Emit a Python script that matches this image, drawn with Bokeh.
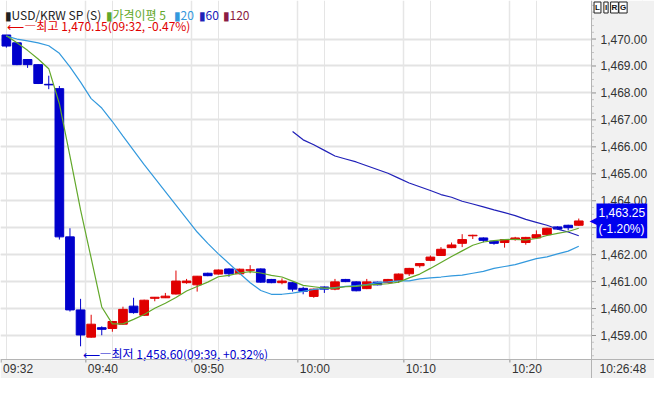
import numpy as np
import pandas as pd
from bokeh.plotting import figure
from bokeh.models import (ColumnDataSource, FixedTicker, Label, Range1d, Grid, BoxAnnotation, Span)
from bokeh.core.properties import value
from bokeh.embed import file_html
from bokeh.resources import INLINE

# ---------------- data ----------------
times = ["09:32", "09:33", "09:34", "09:35", "09:36", "09:37", "09:38", "09:39", "09:40", "09:41",
         "09:42", "09:43", "09:44", "09:45", "09:46", "09:47", "09:48", "09:49", "09:50", "09:51",
         "09:52", "09:53", "09:54", "09:55", "09:56", "09:57", "09:58", "09:59", "10:00", "10:01",
         "10:02", "10:03", "10:04", "10:05", "10:06", "10:07", "10:08", "10:09", "10:10", "10:11",
         "10:12", "10:13", "10:14", "10:15", "10:16", "10:17", "10:18", "10:19", "10:20", "10:21",
         "10:22", "10:23", "10:24", "10:25", "10:26"]

open_ = [1470.15, 1469.86, 1469.24, 1469.05, 1468.32, 1468.16, 1462.66, 1459.95, 1458.94, 1459.29,
         1459.26, 1459.42, 1460.09, 1459.75, 1460.38, 1460.40, 1460.54, 1460.96, 1460.88, 1461.31,
         1461.28, 1461.47, 1461.29, 1461.42, 1461.47, 1461.08, 1460.96, 1460.96, 1460.75, 1460.45,
         1460.80, 1460.72, 1461.08, 1460.99, 1460.74, 1460.98, 1460.96, 1461.04, 1461.29, 1461.59,
         1461.79, 1461.97, 1462.26, 1462.42, 1462.70, 1462.62, 1462.50, 1462.45, 1462.56, 1462.45,
         1462.62, 1462.74, 1463.03, 1463.09, 1463.09]
high = [1470.15, 1469.88, 1469.26, 1469.06, 1468.64, 1468.26, 1462.98, 1460.36, 1459.77, 1459.34,
        1459.53, 1460.07, 1460.40, 1460.33, 1460.43, 1460.58, 1461.41, 1461.10, 1461.21, 1461.33,
        1461.45, 1461.49, 1461.48, 1461.61, 1461.49, 1461.10, 1461.12, 1460.98, 1460.81, 1460.74,
        1460.82, 1461.10, 1461.10, 1461.01, 1461.10, 1461.00, 1461.10, 1461.30, 1461.51, 1461.69,
        1461.97, 1462.28, 1462.45, 1462.76, 1462.74, 1462.64, 1462.52, 1462.58, 1462.66, 1462.66,
        1462.90, 1463.00, 1463.05, 1463.11, 1463.34]
low = [1469.68, 1469.03, 1468.93, 1468.33, 1468.14, 1462.56, 1459.89, 1458.60, 1458.92, 1459.01,
       1459.14, 1459.40, 1459.81, 1459.73, 1460.27, 1460.39, 1460.52, 1460.92, 1460.63, 1461.20,
       1461.26, 1461.18, 1461.27, 1461.31, 1460.96, 1460.94, 1460.90, 1460.63, 1460.53, 1460.40,
       1460.58, 1460.68, 1460.98, 1460.64, 1460.72, 1460.86, 1460.94, 1460.95, 1461.21, 1461.52,
       1461.76, 1461.95, 1462.24, 1462.28, 1462.58, 1462.46, 1462.37, 1462.26, 1462.52, 1462.37,
       1462.60, 1462.70, 1462.93, 1462.90, 1463.07]
close = [1469.74, 1469.05, 1469.05, 1468.35, 1468.30, 1462.66, 1459.95, 1459.02, 1459.42, 1459.23,
         1459.52, 1459.97, 1459.85, 1460.31, 1460.42, 1460.46, 1461.02, 1461.02, 1461.20, 1461.22,
         1461.43, 1461.29, 1461.46, 1461.44, 1460.98, 1460.96, 1461.02, 1460.72, 1460.64, 1460.72,
         1460.72, 1460.99, 1461.00, 1460.66, 1460.99, 1460.88, 1461.08, 1461.28, 1461.49, 1461.67,
         1461.91, 1462.20, 1462.36, 1462.56, 1462.72, 1462.53, 1462.42, 1462.56, 1462.62, 1462.64,
         1462.74, 1462.98, 1462.95, 1463.00, 1463.25]

ma5 = [1470.12, 1469.86, 1469.58, 1469.26, 1468.90, 1467.60, 1465.66, 1463.66, 1461.87, 1460.06,
       1459.43, 1459.43, 1459.60, 1459.78, 1460.01, 1460.20, 1460.41, 1460.65, 1460.82, 1460.98,
       1461.18, 1461.23, 1461.32, 1461.37, 1461.32, 1461.23, 1461.17, 1461.02, 1460.86, 1460.81,
       1460.76, 1460.76, 1460.81, 1460.82, 1460.87, 1460.90, 1460.92, 1460.98, 1461.14, 1461.28,
       1461.49, 1461.71, 1461.93, 1462.14, 1462.35, 1462.47, 1462.52, 1462.56, 1462.57, 1462.55,
       1462.60, 1462.71, 1462.79, 1462.86, 1462.98]
ma20 = [1470.11, 1470.00, 1469.93, 1469.86, 1469.75, 1469.47, 1468.97, 1468.40, 1467.79, 1467.44,
        1466.94, 1466.40, 1465.87, 1465.34, 1464.84, 1464.34, 1463.84, 1463.34, 1462.84, 1462.42,
        1462.03, 1461.67, 1461.31, 1460.96, 1460.67, 1460.53, 1460.53, 1460.57, 1460.64, 1460.71,
        1460.74, 1460.78, 1460.82, 1460.85, 1460.89, 1460.96, 1460.99, 1461.03, 1461.03, 1461.10,
        1461.14, 1461.17, 1461.21, 1461.24, 1461.31, 1461.38, 1461.49, 1461.56, 1461.63, 1461.74,
        1461.85, 1461.92, 1462.03, 1462.13, 1462.31]
ma60_start = "09:59"
ma60 = [1466.57, 1466.26, 1466.08, 1465.87, 1465.66, 1465.55, 1465.44, 1465.30, 1465.16, 1465.02,
        1464.84, 1464.66, 1464.52, 1464.38, 1464.23, 1464.13, 1463.98, 1463.88, 1463.77, 1463.66,
        1463.56, 1463.45, 1463.31, 1463.20, 1463.09, 1462.95, 1462.84, 1462.70]

xtick_labels = ["09:32", "09:40", "09:50", "10:00", "10:10", "10:20"]
yticks = [1459, 1460, 1461, 1462, 1463, 1464, 1465, 1466, 1467, 1468, 1469, 1470]
high_pct = "-0.47%"
low_pct = "+0.32%"
last_pct = "-1.20%"
last_time = "10:26:48"

# ---------------- layout / styles ----------------
RED = "#e00000"
BLUE = "#0000cc"
C_MA5 = "#62a82a"
C_MA20 = "#3399dd"
C_MA60 = "#2020b8"
C_MA120 = "#8b1c44"
KFONT = "Noto Sans CJK KR"
AFONT = "Liberation Sans"
PANEL_BG = "#f1f1f1"
AXIS_LINE = "#b4b4b4"

W, H = 654, 378            # canvas == frame
PW, PH = 591, 359          # plotting area inside frame
XA, XB = -0.553, 55.2      # x extent of plotting area
Y0, Y1 = 1458.11, 1471.43  # y extent of plotting area
ppx = PW / (XB - XA)
ppy = PH / (Y1 - Y0)
X_END = XB + (W - PW) / ppx
Y_BOT = Y0 - (H - PH) / ppy
Y_BAND = (Y0 + Y_BOT) / 2

df = pd.DataFrame(dict(t=times, o=open_, h=high, l=low, c=close))
df["x"] = np.arange(len(df))
df["top"] = df[["o", "c"]].max(axis=1)
df["bot"] = df[["o", "c"]].min(axis=1)
df["col"] = np.where(df["c"] >= df["o"], RED, BLUE)
src = ColumnDataSource(df)

p = figure(width=W, height=H, output_backend="svg", toolbar_location=None,
           x_range=Range1d(XA, X_END), y_range=Range1d(Y_BOT, Y1),
           x_axis_location=None, y_axis_location=None,
           min_border_left=0, min_border_top=0, min_border_right=0, min_border_bottom=0)
p.background_fill_color = "white"
p.border_fill_color = "white"
p.outline_line_color = None

# grids
xg_pos = [times.index(t) - 0.5 for t in xtick_labels]
p.add_layout(Grid(dimension=1, ticker=FixedTicker(ticks=yticks),
                  grid_line_color="#e3e3e3", grid_line_width=2))
p.add_layout(Grid(dimension=0, ticker=FixedTicker(ticks=xg_pos[1:]),
                  grid_line_color="#e6e6e6", grid_line_width=1.5))

# axis panels (right price panel, bottom time band)
p.add_layout(BoxAnnotation(left=XB, fill_color=PANEL_BG, fill_alpha=1, line_color=None,
                           level="underlay"))
p.add_layout(BoxAnnotation(top=Y0, fill_color=PANEL_BG, fill_alpha=1, line_color=None,
                           level="underlay"))
p.add_layout(Span(location=XB, dimension="height", line_color=AXIS_LINE, line_width=1))
p.add_layout(Span(location=Y0, dimension="width", line_color=AXIS_LINE, line_width=1))

# right axis ticks + labels
minor = [v for v in np.arange(np.ceil(Y0 * 4) / 4, Y1, 0.25) if v not in yticks]
p.segment(x0=[XB] * len(minor), x1=[XB + 2.5 / ppx] * len(minor), y0=minor, y1=minor,
          line_color="#c4c4c4", line_width=1)
p.segment(x0=[XB] * len(yticks), x1=[XB + 4.5 / ppx] * len(yticks), y0=yticks, y1=yticks,
          line_color="#909090", line_width=1)
p.text(x=[XB] * len(yticks), y=yticks, text=[f"{v:,.2f}" for v in yticks],
       x_offset=9, text_align="left", text_baseline="middle",
       text_font=value(AFONT), text_font_size="12px", text_color="#333333")

# bottom axis ticks + labels
p.segment(x0=xg_pos, x1=xg_pos, y0=[Y0] * len(xg_pos), y1=[Y0 - 3 / ppy] * len(xg_pos),
          line_color="#909090", line_width=1)
p.text(x=xg_pos, y=[Y_BAND] * len(xg_pos), text=xtick_labels, x_offset=2,
       text_align="left", text_baseline="middle",
       text_font=value(AFONT), text_font_size="12px", text_color="#333333")
p.text(x=[XB], y=[Y_BAND], text=[last_time], x_offset=8,
       text_align="left", text_baseline="middle",
       text_font=value(AFONT), text_font_size="12px", text_color="#333333")

# candles
p.segment(x0="x", y0="l", x1="x", y1="h", color="col", line_width=1, source=src)
p.vbar(x="x", top="top", bottom="bot", width=0.82, fill_color="col", line_color="col",
       line_width=1, source=src)

# moving averages
xi = np.arange(len(times))
p.line(xi, ma20, line_color=C_MA20, line_width=1.2)
i60 = times.index(ma60_start)
p.line(xi[i60:i60 + len(ma60)], ma60, line_color=C_MA60, line_width=1.2)
p.line(xi, ma5, line_color=C_MA5, line_width=1.2)

# high / low annotations
ih = int(np.argmax(high))
il = int(np.argmin(low))
p.text(x=[ih], y=[high[ih]], text=[f"⟵―최고 {high[ih]:,.2f}({times[ih]}, {high_pct})"],
       text_color=RED, text_font=value(KFONT), text_font_size="12px",
       text_align="left", text_baseline="bottom", x_offset=1, y_offset=-1)
p.text(x=[il], y=[low[il]], text=[f"⟵―최저 {low[il]:,.2f}({times[il]}, {low_pct})"],
       text_color=BLUE, text_font=value(KFONT), text_font_size="12px",
       text_align="left", text_baseline="top", x_offset=2, y_offset=-1)

# legend row at top
legend_items = [("▮USD/KRW SP (S)", "#222222", 4), ("▮가격이평 5", C_MA5, 105),
                ("▮20", C_MA20, 173), ("▮60", C_MA60, 198), ("▮120", C_MA120, 222)]
for txt, col, xs in legend_items:
    p.add_layout(Label(x=xs, y=Y1, x_units="screen", y_units="data", y_offset=-14,
                       text=txt, text_color=col, text_font=KFONT, text_font_size="12px",
                       text_align="left", text_baseline="middle"))

# last price tag
last = close[-1]
p.add_layout(Label(x=PW - 2, y=last, x_units="screen", y_units="data",
                   text="◀", text_color="#0000ee", text_font="DejaVu Sans",
                   text_font_size="10px", text_align="left", text_baseline="middle"))
p.add_layout(Label(x=PW + 5, y=last, x_units="screen", y_units="data",
                   text=f"{last:,.2f}\n({last_pct})", text_color="white", text_font=AFONT,
                   text_font_size="12px", text_align="left", text_baseline="middle",
                   background_fill_color="#0000ee", padding=2))

# L I R G boxes
for k, ch in enumerate(["L", "I", "R", "G"]):
    p.add_layout(Label(x=PW + 6 + k * 8.5, y=Y1, x_units="screen", y_units="data", y_offset=-7,
                       text=ch, text_color="#111111", text_font=AFONT, text_font_size="8px",
                       text_font_style="bold", text_align="center", text_baseline="middle",
                       border_line_color="#222222", background_fill_color="#ffffff", padding=1))

open("out.html", "w").write(file_html(p, INLINE))
